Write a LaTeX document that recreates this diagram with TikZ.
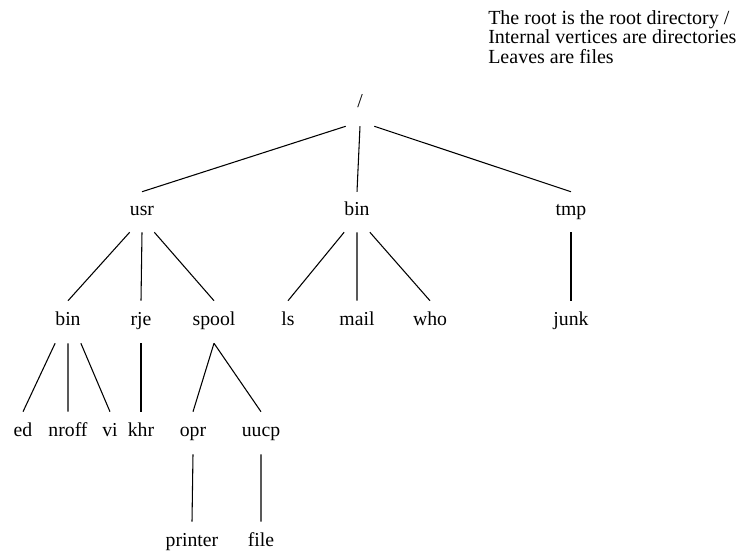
\documentclass[tikz,border=0pt]{standalone}
\usepackage{fontspec}
\setmainfont{Liberation Serif}
\tikzset{
  dirnode/.style={font=\fontsize{14.8}{15}\selectfont,inner sep=0pt,
    text height=0.68em,text depth=0.22em,minimum height=31.5pt},
  topnode/.style={dirnode,minimum height=30pt},
  rootnode/.style={dirnode,minimum height=33pt,minimum width=21pt},
  notetext/.style={font=\fontsize{15}{14.6}\selectfont,inner sep=0pt,align=left},
  treeedge/.style={draw,line width=0.8pt}
}

\begin{document}
\begin{tikzpicture}[x=0.75pt,y=-0.75pt]
  \useasboundingbox (0,0) rectangle (747,552);
  % caption in the upper right corner
  \node[notetext,anchor=north west] (note) at (488,10)
     {The root is the root directory /\\ Internal vertices are directories\\ Leaves are files};
  % root and first level
  \node[rootnode] (root) at (360,104) {/};
  \node[topnode] (usr) at (142,212) {usr};
  \node[topnode] (bin) at (357,212) {bin};
  \node[topnode] (tmp) at (571,212) {tmp};
  % second level
  \node[dirnode] (ubin)  at (68,322)  {bin};
  \node[dirnode] (rje)   at (141,322) {rje};
  \node[dirnode] (spool) at (214,322) {spool};
  \node[dirnode] (ls)    at (288,322) {ls};
  \node[dirnode] (mail)  at (357,322) {mail};
  \node[dirnode] (who)   at (430,322) {who};
  \node[dirnode] (junk)  at (571,322) {junk};
  % third level
  \node[dirnode] (ed)    at (23,433)  {ed};
  \node[dirnode] (nroff) at (68,433)  {nroff};
  \node[dirnode] (vi)    at (110,433) {vi};
  \node[dirnode] (khr)   at (141,433) {khr};
  \node[dirnode] (opr)   at (193,433) {opr};
  \node[dirnode] (uucp)  at (261,433) {uucp};
  % fourth level
  \node[dirnode] (printer) at (192,543) {printer};
  \node[dirnode] (file)    at (261,543) {file};
  % edges
  \path[treeedge] (root.south west) -- (usr.north)
                  (root.south) -- (bin.north)
                  (root.south east) -- (tmp.north);
  \path[treeedge] (usr.south west) -- (ubin.north)
                  (usr.south) -- (rje.north)
                  (usr.south east) -- (spool.north);
  \path[treeedge] (bin.south west) -- (ls.north)
                  (bin.south) -- (mail.north)
                  (bin.south east) -- (who.north);
  \path[treeedge] (tmp.south) -- (junk.north);
  \path[treeedge] (ubin.south west) -- (ed.north)
                  (ubin.south) -- (nroff.north)
                  (ubin.south east) -- (vi.north);
  \path[treeedge] (rje.south) -- (khr.north);
  \path[treeedge] (spool.south) -- (opr.north)
                  (spool.south) -- (uucp.north);
  \path[treeedge] (opr.south) -- (printer.north)
                  (uucp.south) -- (file.north);
\end{tikzpicture}
\end{document}
